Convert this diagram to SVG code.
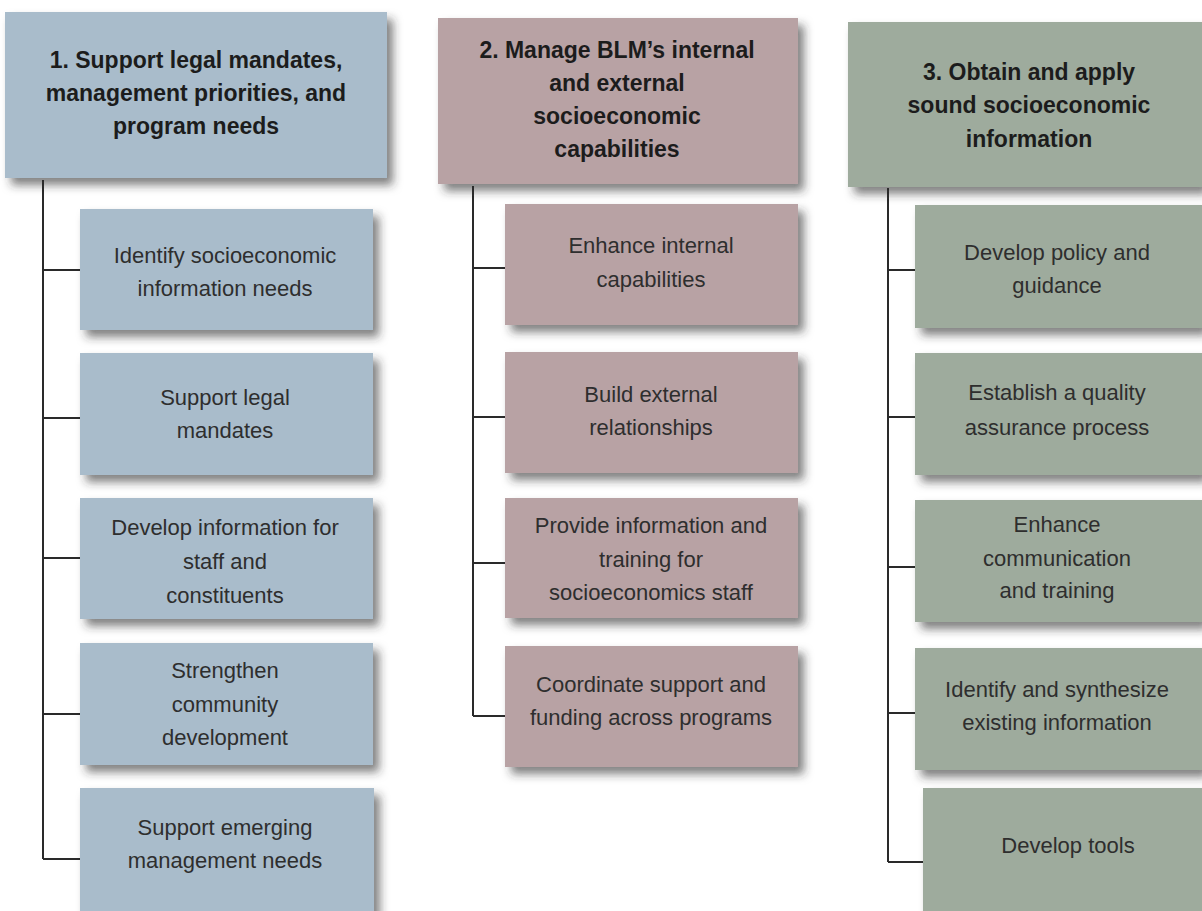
<svg xmlns="http://www.w3.org/2000/svg" width="1202" height="911" viewBox="0 0 1202 911">
<defs>
<style>
.hd{font-family:"Liberation Sans",Arial,sans-serif;font-weight:bold;font-size:23px;fill:#1c1c1c;text-anchor:middle}
.ch{font-family:"Liberation Sans",Arial,sans-serif;font-size:22px;fill:#2e2e2e;text-anchor:middle}
.b{fill:#a9bccb}
.m{fill:#b8a2a4}
.g{fill:#9eab9d}
.ln{stroke:#2a2a2a;stroke-width:2;fill:none}
</style>
<filter id="sh" x="-10%" y="-20%" width="130%" height="160%">
<feDropShadow dx="6" dy="7" stdDeviation="5" flood-color="#2a2a2a" flood-opacity="0.6"/>
</filter>
</defs>
<rect width="1202" height="911" fill="#ffffff"/>

<g id="connectors">
<path class="ln" d="M43 180 V859 M43 270 H80 M43 418 H80 M43 558 H80 M43 714 H80 M43 859 H80"/>
<path class="ln" d="M473 186 V716 M473 268 H505 M473 417 H505 M473 563 H505 M473 716 H505"/>
<path class="ln" d="M888 188 V862 M888 270 H915 M888 417 H915 M888 567 H915 M888 713 H915 M888 862 H923"/>
</g>

<g id="h1"><rect class="b" x="5" y="12" width="382" height="166" filter="url(#sh)"/>
<text class="hd" x="196" y="68">1. Support legal mandates,</text>
<text class="hd" x="196" y="101">management priorities, and</text>
<text class="hd" x="196" y="134">program needs</text></g>

<g id="c1a"><rect class="b" x="80" y="209" width="293" height="121" filter="url(#sh)"/>
<text class="ch" x="225" y="263">Identify socioeconomic</text>
<text class="ch" x="225" y="296">information needs</text></g>
<g id="c1b"><rect class="b" x="80" y="353" width="293" height="122" filter="url(#sh)"/>
<text class="ch" x="225" y="405">Support legal</text>
<text class="ch" x="225" y="438">mandates</text></g>
<g id="c1c"><rect class="b" x="80" y="498" width="293" height="121" filter="url(#sh)"/>
<text class="ch" x="225" y="535">Develop information for</text>
<text class="ch" x="225" y="569">staff and</text>
<text class="ch" x="225" y="603">constituents</text></g>
<g id="c1d"><rect class="b" x="80" y="643" width="293" height="122" filter="url(#sh)"/>
<text class="ch" x="225" y="678">Strengthen</text>
<text class="ch" x="225" y="712">community</text>
<text class="ch" x="225" y="745">development</text></g>
<g id="c1e"><rect class="b" x="80" y="788" width="294" height="130" filter="url(#sh)"/>
<text class="ch" x="225" y="835">Support emerging</text>
<text class="ch" x="225" y="868">management needs</text></g>

<g id="h2"><rect class="m" x="438" y="18" width="360" height="166" filter="url(#sh)"/>
<text class="hd" x="617" y="58">2. Manage BLM’s internal</text>
<text class="hd" x="617" y="91">and external</text>
<text class="hd" x="617" y="124">socioeconomic</text>
<text class="hd" x="617" y="157">capabilities</text></g>

<g id="c2a"><rect class="m" x="505" y="204" width="293" height="121" filter="url(#sh)"/>
<text class="ch" x="651" y="253">Enhance internal</text>
<text class="ch" x="651" y="287">capabilities</text></g>
<g id="c2b"><rect class="m" x="505" y="352" width="293" height="121" filter="url(#sh)"/>
<text class="ch" x="651" y="402">Build external</text>
<text class="ch" x="651" y="435">relationships</text></g>
<g id="c2c"><rect class="m" x="505" y="498" width="293" height="120" filter="url(#sh)"/>
<text class="ch" x="651" y="533">Provide information and</text>
<text class="ch" x="651" y="567">training for</text>
<text class="ch" x="651" y="600">socioeconomics staff</text></g>
<g id="c2d"><rect class="m" x="505" y="646" width="293" height="121" filter="url(#sh)"/>
<text class="ch" x="651" y="692">Coordinate support and</text>
<text class="ch" x="651" y="725">funding across programs</text></g>

<g id="h3"><rect class="g" x="848" y="22" width="354" height="165" filter="url(#sh)"/>
<text class="hd" x="1029" y="80">3. Obtain and apply</text>
<text class="hd" x="1029" y="113">sound socioeconomic</text>
<text class="hd" x="1029" y="147">information</text></g>

<g id="c3a"><rect class="g" x="915" y="205" width="287" height="123" filter="url(#sh)"/>
<text class="ch" x="1057" y="260">Develop policy and</text>
<text class="ch" x="1057" y="293">guidance</text></g>
<g id="c3b"><rect class="g" x="915" y="353" width="287" height="122" filter="url(#sh)"/>
<text class="ch" x="1057" y="400">Establish a quality</text>
<text class="ch" x="1057" y="435">assurance process</text></g>
<g id="c3c"><rect class="g" x="915" y="500" width="287" height="122" filter="url(#sh)"/>
<text class="ch" x="1057" y="532">Enhance</text>
<text class="ch" x="1057" y="566">communication</text>
<text class="ch" x="1057" y="598">and training</text></g>
<g id="c3d"><rect class="g" x="915" y="648" width="287" height="122" filter="url(#sh)"/>
<text class="ch" x="1057" y="697">Identify and synthesize</text>
<text class="ch" x="1057" y="730">existing information</text></g>
<g id="c3e"><rect class="g" x="923" y="788" width="279" height="130" filter="url(#sh)"/>
<text class="ch" x="1068" y="853">Develop tools</text></g>
</svg>
